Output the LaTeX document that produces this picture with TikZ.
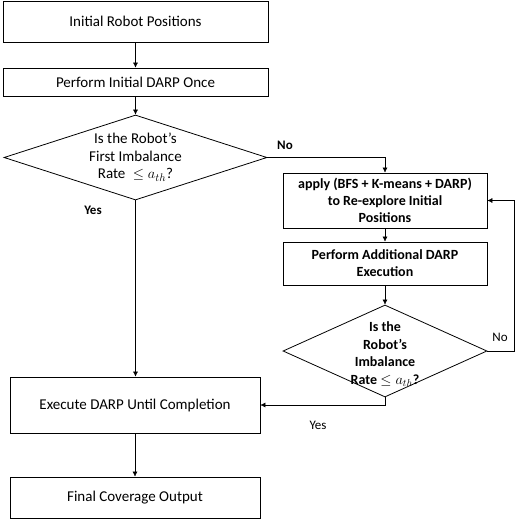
\documentclass[tikz,border=0pt]{standalone}
\usepackage{fontspec}
\setmainfont{Carlito}
\usetikzlibrary{shapes.geometric,arrows.meta}
\begin{document}
\begin{tikzpicture}[
  x=1pt, y=-1pt,
  font=\fontsize{15}{17.5}\selectfont,
  pbox/.style={rectangle, draw, line width=0.8pt, inner sep=2pt, align=center},
  bbox/.style={pbox, font=\fontsize{14}{17}\selectfont\bfseries},
  dbox/.style={diamond, draw, line width=0.8pt, inner sep=0pt, align=center},
  arr/.style={-{Latex[length=5pt,width=5pt]}, line width=0.5pt},
  lbl/.style={inner sep=1pt, font=\fontsize{13}{15}\selectfont}
]
  \useasboundingbox (0,0) rectangle (527,528);
  \node[pbox, minimum width=265pt, minimum height=41pt] (init) at (135.5,21.5) {Initial Robot Positions};
  \node[pbox, minimum width=265pt, minimum height=28pt] (darp) at (135.5,82) {Perform Initial DARP Once};
  \node[dbox, aspect=3.1, minimum width=263pt, minimum height=85pt] (chk1) at (135.5,157.5) {Is the Robot's\\First Imbalance\\Rate $\;\leq a_{th}$?};
  \node[bbox, minimum width=204pt, minimum height=55pt] (apply) at (385,200.5) {apply (BFS + K-means + DARP)\\to Re-explore Initial\\Positions};
  \node[bbox, minimum width=204pt, minimum height=43pt] (addl) at (385,263.5) {Perform Additional DARP\\Execution};
  \node[dbox, aspect=2.2, minimum width=204pt, minimum height=92pt, font=\fontsize{14}{17.5}\selectfont\bfseries] (chk2) at (385,351)
    {\raisebox{-7pt}[18pt][18pt]{\begin{tabular}{@{}c@{}}Is the\\Robot's\\Imbalance\\Rate $\leq a_{th}$?\end{tabular}}};
  \node[pbox, minimum width=250pt, minimum height=56pt] (exec) at (135,405) {Execute DARP Until Completion};
  \node[pbox, minimum width=250pt, minimum height=41pt] (final) at (135,497.5) {Final Coverage Output};
  \coordinate (loopx) at (514,0);

  \draw[arr] (init) -- (darp);
  \draw[arr] (darp) -- (chk1);
  \draw[arr] (chk1.east) -| (apply.north);
  \draw[arr] (chk1.south) -- (chk1.south |- exec.north);
  \draw[arr] (apply) -- (addl);
  \draw[arr] (addl) -- (chk2);
  \draw[arr] (chk2.east) -- (chk2.east -| loopx) |- (apply.east);
  \draw[arr] (chk2.south) |- (exec.east);
  \draw[arr] (exec) -- (final);

  \node[lbl, font=\fontsize{13}{15}\selectfont\bfseries] (no1) at (285,145) {No};
  \node[lbl, font=\fontsize{13}{15}\selectfont\bfseries] (yes1) at (93,210) {Yes};
  \node[lbl] (no2) at (500,337) {No};
  \node[lbl] (yes2) at (318,425) {Yes};
\end{tikzpicture}
\end{document}
